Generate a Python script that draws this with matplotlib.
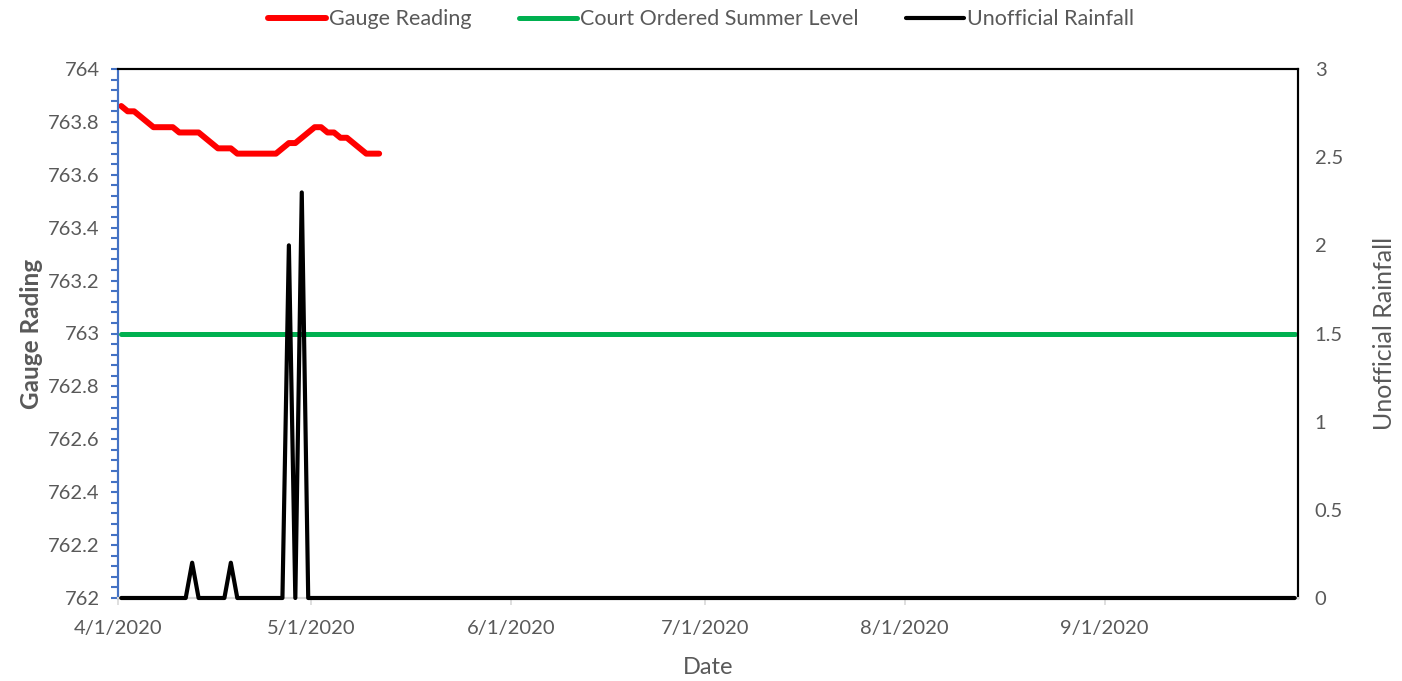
import numpy as np
import pandas as pd
import matplotlib
matplotlib.use("Agg")
import matplotlib.pyplot as plt
import matplotlib.dates as mdates
from matplotlib.ticker import MultipleLocator, FuncFormatter

plt.rcParams['font.family'] = ['Lato', 'DejaVu Sans']

# daily gauge readings, 4/1/2020 .. 5/11/2020
gauge_start = "2020-04-01"
gauge_values = [
    763.86, 763.84, 763.84, 763.82, 763.80, 763.78, 763.78, 763.78, 763.78, 763.76,
    763.76, 763.76, 763.76, 763.74, 763.72, 763.70, 763.70, 763.70, 763.68, 763.68,
    763.68, 763.68, 763.68, 763.68, 763.68, 763.70, 763.72, 763.72, 763.74, 763.76,
    763.78, 763.78, 763.76, 763.76, 763.74, 763.74, 763.72, 763.70, 763.68, 763.68,
    763.68,
]

court_level = 763.0

# daily rainfall, 4/1/2020 .. 9/30/2020
rain_start = "2020-04-01"
rain_values = [
    # April
    0, 0, 0, 0, 0, 0, 0, 0, 0, 0, 0, 0.2, 0, 0, 0, 0, 0, 0.2, 0, 0,
    0, 0, 0, 0, 0, 0, 2.0, 0, 2.3, 0,
    # May
    0, 0, 0, 0, 0, 0, 0, 0, 0, 0, 0, 0, 0, 0, 0, 0, 0, 0, 0, 0,
    0, 0, 0, 0, 0, 0, 0, 0, 0, 0, 0,
    # June
    0, 0, 0, 0, 0, 0, 0, 0, 0, 0, 0, 0, 0, 0, 0, 0, 0, 0, 0, 0,
    0, 0, 0, 0, 0, 0, 0, 0, 0, 0,
    # July
    0, 0, 0, 0, 0, 0, 0, 0, 0, 0, 0, 0, 0, 0, 0, 0, 0, 0, 0, 0,
    0, 0, 0, 0, 0, 0, 0, 0, 0, 0, 0,
    # August
    0, 0, 0, 0, 0, 0, 0, 0, 0, 0, 0, 0, 0, 0, 0, 0, 0, 0, 0, 0,
    0, 0, 0, 0, 0, 0, 0, 0, 0, 0, 0,
    # September
    0, 0, 0, 0, 0, 0, 0, 0, 0, 0, 0, 0, 0, 0, 0, 0, 0, 0, 0, 0,
    0, 0, 0, 0, 0, 0, 0, 0, 0, 0,
]

month_ticks = ["2020-04-01", "2020-05-01", "2020-06-01", "2020-07-01", "2020-08-01", "2020-09-01"]
month_labels = ["4/1/2020", "5/1/2020", "6/1/2020", "7/1/2020", "8/1/2020", "9/1/2020"]

GRAY = "#595959"
BLUE = "#4472C4"

# excel date axis puts points between tick marks -> middle of the day
half_day = pd.Timedelta(hours=12)
gauge_dates = pd.date_range(gauge_start, periods=len(gauge_values), freq="D") + half_day
rain_dates = pd.date_range(rain_start, periods=len(rain_values), freq="D") + half_day

fig = plt.figure(figsize=(14.02, 6.81), dpi=100)
ax = fig.add_axes([118 / 1402, 1 - 598 / 681, 1180 / 1402, 529 / 681])
ax2 = ax.twinx()

l1, = ax.plot(gauge_dates, gauge_values, color="#FF0000", lw=4.3,
              solid_joinstyle="round", solid_capstyle="round", label="Gauge Reading")
l2, = ax.plot(rain_dates, [court_level] * len(rain_dates), color="#00B050", lw=3.6,
              solid_capstyle="round", label="Court Ordered Summer Level")
l3, = ax2.plot(rain_dates, rain_values, color="black", lw=3.0, clip_on=False, zorder=4,
               solid_joinstyle="round", solid_capstyle="round", label="Unofficial Rainfall")

ax.set_xlim(pd.Timestamp("2020-04-01"), pd.Timestamp("2020-10-01"))
ax.set_ylim(762, 764)
ax2.set_ylim(0, 3)

ax.yaxis.set_major_locator(MultipleLocator(0.2))
ax.yaxis.set_minor_locator(MultipleLocator(0.04))
ax.yaxis.set_major_formatter(FuncFormatter(lambda v, p: f"{v:g}"))
ax2.yaxis.set_major_locator(MultipleLocator(0.5))
ax2.yaxis.set_major_formatter(FuncFormatter(lambda v, p: f"{v:g}"))

ax.set_xticks(pd.to_datetime(month_ticks))
ax.set_xticklabels(month_labels)

ax.tick_params(axis="y", which="both", direction="out", length=5, width=1.5,
               color=BLUE, labelcolor=GRAY, labelsize=14.5, pad=8)
ax.tick_params(axis="x", direction="out", length=5, width=1.2, color="#D9D9D9",
               labelcolor=GRAY, labelsize=14.5, pad=11)
ax2.tick_params(axis="y", length=0, labelcolor=GRAY, labelsize=14.5, pad=12)

for a in (ax, ax2):
    a.spines["top"].set_color("black")
    a.spines["top"].set_linewidth(1.5)
    a.spines["right"].set_color("black")
    a.spines["right"].set_linewidth(1.5)
    a.spines["left"].set_color(BLUE)
    a.spines["left"].set_linewidth(1.5)
    a.spines["bottom"].set_color("#D9D9D9")
    a.spines["bottom"].set_linewidth(1.5)

ax.set_ylabel("Gauge Rading", fontsize=17.5, fontweight="bold", color=GRAY, labelpad=4)
ax2.set_ylabel("Unofficial Rainfall", fontsize=18, color=GRAY, labelpad=22)
ax.set_xlabel("Date", fontsize=17, color=GRAY, labelpad=14)

leg = fig.legend(handles=[l1, l2, l3], loc="upper center", bbox_to_anchor=(0.5, 1.015),
                 ncol=3, frameon=False, fontsize=15.5, handlelength=2.7,
                 handletextpad=0.15, columnspacing=2.2)
for t in leg.get_texts():
    t.set_color(GRAY)

fig.savefig("out.png", dpi=100)
